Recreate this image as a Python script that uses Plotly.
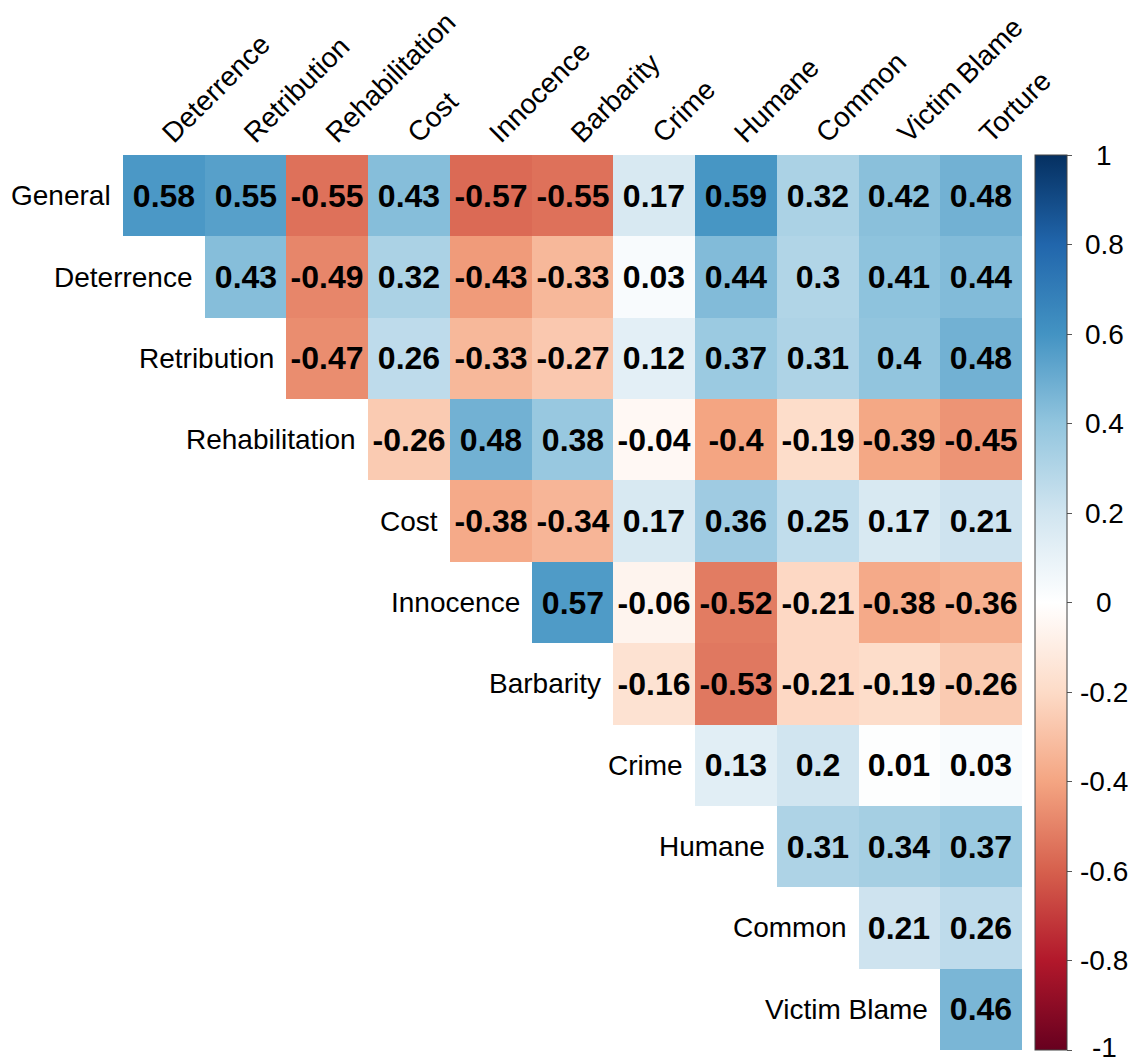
import plotly.graph_objects as go

# Correlation matrix (upper triangle) between attitude measures
row_labels = ["General", "Deterrence", "Retribution", "Rehabilitation", "Cost",
              "Innocence", "Barbarity", "Crime", "Humane", "Common", "Victim Blame"]
col_labels = ["Deterrence", "Retribution", "Rehabilitation", "Cost", "Innocence",
              "Barbarity", "Crime", "Humane", "Common", "Victim Blame", "Torture"]

general = [0.58, 0.55, -0.55, 0.43, -0.57, -0.55, 0.17, 0.59, 0.32, 0.42, 0.48]
deterrence = [0.43, -0.49, 0.32, -0.43, -0.33, 0.03, 0.44, 0.3, 0.41, 0.44]
retribution = [-0.47, 0.26, -0.33, -0.27, 0.12, 0.37, 0.31, 0.4, 0.48]
rehabilitation = [-0.26, 0.48, 0.38, -0.04, -0.4, -0.19, -0.39, -0.45]
cost = [-0.38, -0.34, 0.17, 0.36, 0.25, 0.17, 0.21]
innocence = [0.57, -0.06, -0.52, -0.21, -0.38, -0.36]
barbarity = [-0.16, -0.53, -0.21, -0.19, -0.26]
crime = [0.13, 0.2, 0.01, 0.03]
humane = [0.31, 0.34, 0.37]
common = [0.21, 0.26]
victim_blame = [0.46]

rows = [general, deterrence, retribution, rehabilitation, cost, innocence,
        barbarity, crime, humane, common, victim_blame]

cbar_ticks = [1, 0.8, 0.6, 0.4, 0.2, 0, -0.2, -0.4, -0.6, -0.8, -1]

n = len(col_labels)
z, txt = [], []
for i, vals in enumerate(rows):
    pad = [None] * (n - len(vals))
    z.append(pad + vals)
    txt.append([""] * len(pad) + [str(v) for v in vals])

# Diverging red-blue palette (-1 .. 1)
palette = ["#67001F", "#B2182B", "#D6604D", "#F4A582", "#FDDBC7", "#FFFFFF",
           "#D1E5F0", "#92C5DE", "#4393C3", "#2166AC", "#053061"]
colorscale = [[k / (len(palette) - 1), c] for k, c in enumerate(palette)]

FONT = "Liberation Sans, Arial, sans-serif"
LABEL_SIZE = 28

W, H = 1136, 1063
ML, MR, MT, MB = 123, 114, 155, 13
plot_w = W - ML - MR

fig = go.Figure(go.Heatmap(
    z=z,
    x=list(range(n)),
    y=list(range(len(rows))),
    text=txt,
    texttemplate="%{text}",
    textfont=dict(family=FONT, size=32, color="black", weight="bold"),
    colorscale=colorscale,
    zmin=-1, zmax=1,
    hoverongaps=False,
    colorbar=dict(
        x=(1035 - ML) / plot_w, xanchor="left", xpad=0,
        y=0.5, yanchor="middle", len=1, lenmode="fraction", ypad=0,
        thickness=32, outlinewidth=1, outlinecolor="#444444",
        tickvals=cbar_ticks, showticklabels=False,
        ticks="outside", ticklen=5, tickcolor="#555555",
    ),
))

# Colour bar labels, centred in a column to the right of the bar
for t in cbar_ticks:
    fig.add_annotation(x=(1104 - ML) / plot_w, y=(t + 1) / 2, xref="paper", yref="paper",
                       text=str(t), showarrow=False, xanchor="center", yanchor="middle",
                       yshift=3 if t == -1 else 0,
                       font=dict(family=FONT, size=LABEL_SIZE, color="black"))

# Row labels sit just left of the first cell in each row
for i, name in enumerate(row_labels):
    fig.add_annotation(x=i - 0.5, y=i, xref="x", yref="y", text=name,
                       showarrow=False, xanchor="right", yanchor="middle",
                       xshift=-10, font=dict(family=FONT, size=LABEL_SIZE, color="black"))

fig.update_xaxes(side="top", range=[-0.5, n - 0.5], tickvals=list(range(n)),
                 ticktext=col_labels, tickangle=-45, showgrid=False,
                 zeroline=False, showline=False, ticks="", automargin=False,
                 tickfont=dict(family=FONT, size=LABEL_SIZE, color="black"))
fig.update_yaxes(range=[len(rows) - 0.5, -0.5], showticklabels=False,
                 showgrid=False, zeroline=False, showline=False, ticks="",
                 automargin=False)

fig.update_layout(
    width=W, height=H,
    margin=dict(l=ML, r=MR, t=MT, b=MB, autoexpand=False),
    paper_bgcolor="white", plot_bgcolor="white",
)

fig.write_html("out.html")
